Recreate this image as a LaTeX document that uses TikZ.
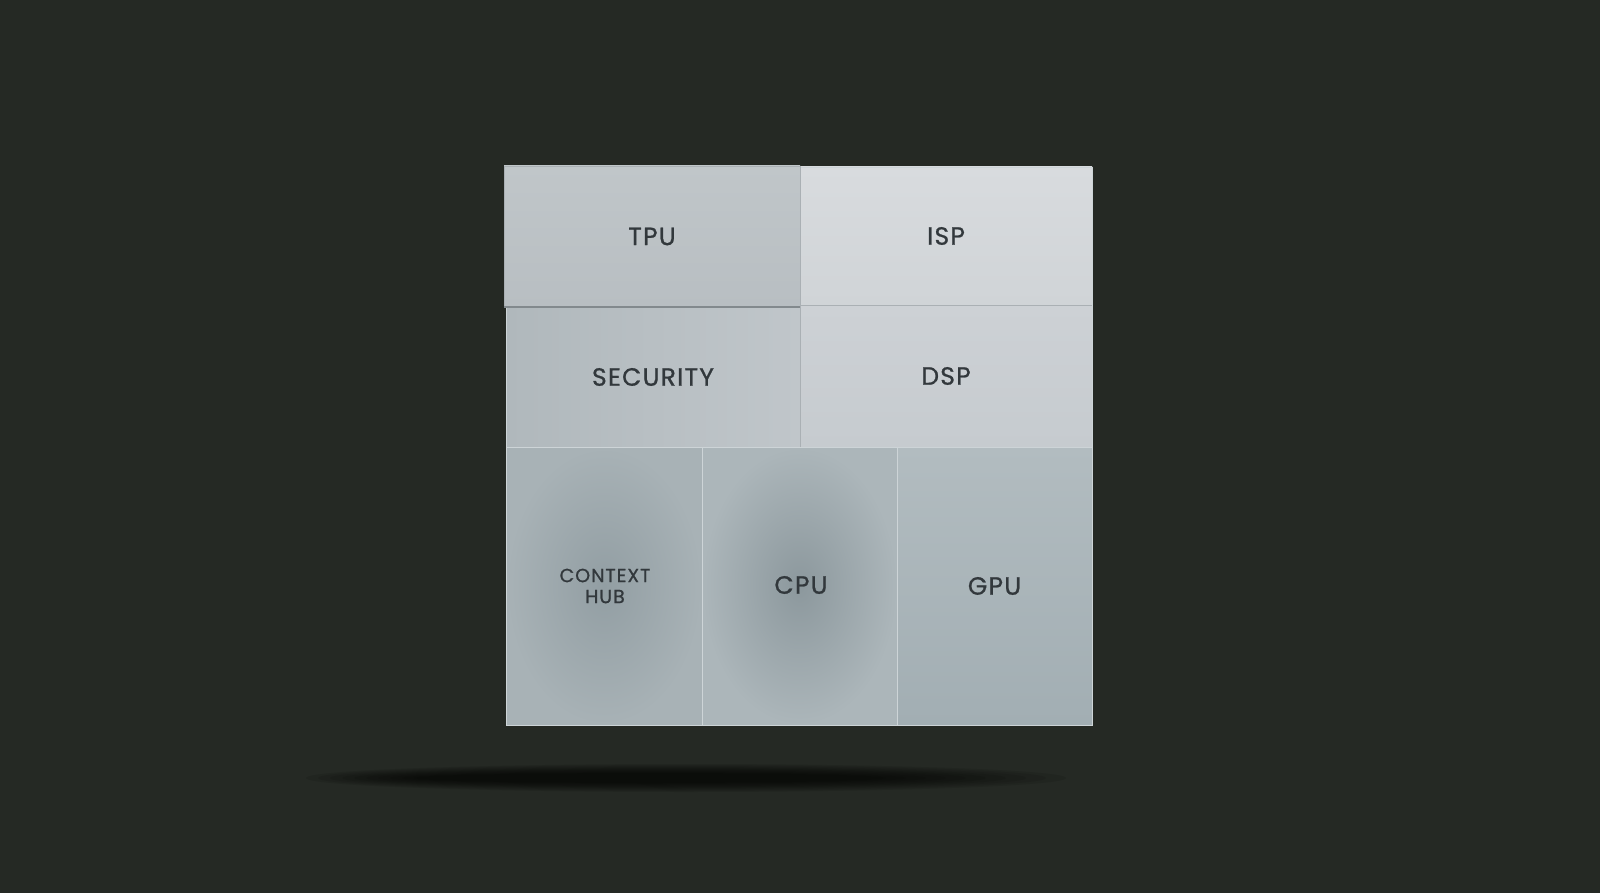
\documentclass[tikz,border=0pt]{standalone}
\usepackage{fontspec}
\setmainfont{Poppins}
\newfontfamily\labelfont{Poppins}[FakeBold=0.9, LetterSpace=5]
\usetikzlibrary{positioning}
\definecolor{bg}{RGB}{37,41,36}
\definecolor{txt}{RGB}{50,56,60}
\definecolor{edge}{RGB}{205,212,215}
\definecolor{tpuline}{RGB}{130,137,141}
\definecolor{seam}{RGB}{170,176,180}
\tikzset{
  block/.style={inner sep=0pt, outer sep=0pt, draw=edge, line width=0.8pt, text=txt,
    font=\labelfont\fontsize{25}{28}\selectfont, align=center},
  small/.style={font=\labelfont\fontsize{19}{21}\selectfont}
}
\begin{document}
\begin{tikzpicture}[x=1pt,y=-1pt]
\fill[bg] (0,0) rectangle (1600,893);
\useasboundingbox (0,0) rectangle (1600,893);
% floor shadow
\foreach \i in {0,...,9}{
  \fill[black, opacity=0.09] (686-\i*4,778) ellipse ({380-\i*16} and {14-\i*1.0});
}
% chip blocks
\node[block, minimum width=292pt, minimum height=138pt, top color={rgb,255:red,216;green,219;blue,222}, bottom color={rgb,255:red,208;green,212;blue,215}] (isp) at (946,236) {ISP};
\node[block, minimum width=292pt, minimum height=142pt, top color={rgb,255:red,205;green,209;blue,213}, bottom color={rgb,255:red,198;green,203;blue,207}] (dsp) at (946,376) {DSP};
\node[block, minimum width=294pt, minimum height=140pt, left color={rgb,255:red,176;green,184;blue,188}, right color={rgb,255:red,192;green,198;blue,202}] (sec) at (653,377) {SECURITY};
\draw[line width=1pt, draw=seam] (isp.south west) -- (isp.south east);
\draw[line width=0.8pt, draw=seam] (dsp.north west) -- (dsp.south west);
\node[block, minimum width=196pt, minimum height=278pt, inner color={rgb,255:red,146;green,158;blue,163}, outer color={rgb,255:red,168;green,178;blue,182}] (hub) at (604,586) {};
\node[block, small, draw=none] (hubt) at (605,586) {CONTEXT\\HUB};
\node[block, minimum width=195pt, minimum height=278pt, inner color={rgb,255:red,140;green,152;blue,157}, outer color={rgb,255:red,172;green,182;blue,186}] (cpu) at (799.5,586) {};
\node[block, draw=none] (cput) at (801,585) {CPU};
\node[block, minimum width=195pt, minimum height=278pt, top color={rgb,255:red,178;green,188;blue,192}, bottom color={rgb,255:red,162;green,174;blue,179}] (gpu) at (994.5,586) {GPU};
\node[block, draw={rgb,255:red,170;green,176;blue,180}, minimum width=296pt, minimum height=141pt, top color={rgb,255:red,192;green,198;blue,201}, bottom color={rgb,255:red,184;green,190;blue,194}] (tpu) at (652,236.5) {TPU};
\draw[line width=1.5pt, draw=tpuline] (tpu.south west) -- (tpu.south east);
\end{tikzpicture}
\end{document}
